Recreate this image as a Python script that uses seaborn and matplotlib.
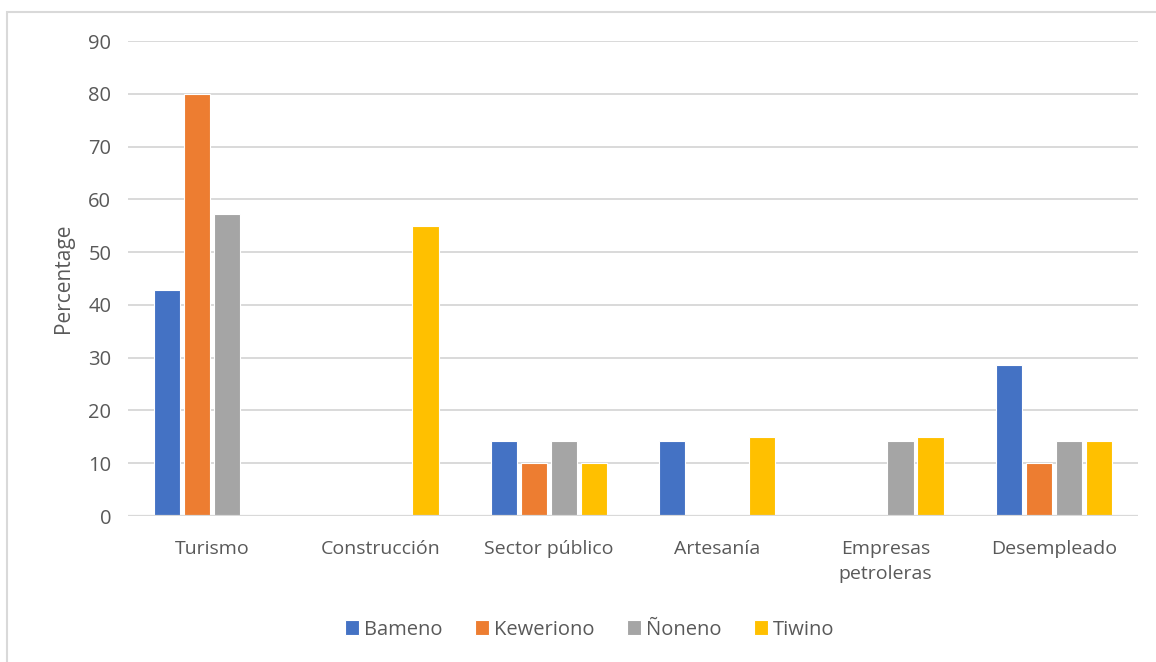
import matplotlib
matplotlib.use("Agg")
import matplotlib.pyplot as plt
from matplotlib.patches import Rectangle
import seaborn as sns
import pandas as pd

categories = ["Turismo", "Construcción", "Sector público", "Artesanía",
              "Empresas\npetroleras", "Desempleado"]
communities = ["Bameno", "Keweriono", "Ñoneno", "Tiwino"]
bameno = [42.86, 0, 14.29, 14.29, 0, 28.57]
keweriono = [80, 0, 10, 0, 0, 10]
noneno = [57.14, 0, 14.29, 0, 14.29, 14.29]
tiwino = [0, 55, 10, 15, 15, 14.29]
y_ticks = [0, 10, 20, 30, 40, 50, 60, 70, 80, 90]

colors = ["#4472C4", "#ED7D31", "#A5A5A5", "#FFC000"]
text_color = "#595959"
grid_color = "#D9D9D9"

series = [bameno, keweriono, noneno, tiwino]
rows = []
for name, vals in zip(communities, series):
    for cat, v in zip(categories, vals):
        rows.append({"Category": cat, "Community": name, "Percentage": v})
df = pd.DataFrame(rows)

sns.set_theme(style="white")
plt.rcParams["font.family"] = ["Open Sans", "DejaVu Sans"]

fig = plt.figure(figsize=(11.56, 6.62), dpi=100)
ax = fig.add_axes([0.1107, 0.2205, 0.8737, 0.7175])

sns.barplot(data=df, x="Category", y="Percentage", hue="Community",
            order=categories, hue_order=communities, palette=colors,
            saturation=1, width=0.713, gap=0.12, edgecolor="white",
            linewidth=0.8, ax=ax, zorder=2)

ax.set_ylim(0, 90)
ax.set_yticks(y_ticks)
ax.set_xlim(-0.5, len(categories) - 0.5)
for y in y_ticks[1:]:
    ax.axhline(y, color=grid_color, lw=1.4, zorder=1)
ax.axhline(0, color=grid_color, lw=1.6, zorder=3)

for s in ax.spines.values():
    s.set_visible(False)
ax.tick_params(axis="both", length=0, colors=text_color)
ax.tick_params(axis="x", pad=17, labelsize=14)
ax.tick_params(axis="y", pad=12, labelsize=14.5)
for lbl in ax.get_xticklabels():
    lbl.set_linespacing(1.55)
ax.set_xlabel("")
ax.set_ylabel("Percentage", color=text_color, fontsize=15, labelpad=10)

handles, labels = ax.get_legend_handles_labels()
if ax.legend_:
    ax.legend_.remove()
fig.legend(handles, labels, loc="center", bbox_to_anchor=(0.51, 0.049),
           ncol=4, frameon=False, fontsize=14.5, handlelength=0.7,
           handleheight=0.7, handletextpad=0.25, columnspacing=1.6,
           labelcolor=text_color)

# light frame around the chart area
fig.patches.append(Rectangle((7 / 1156, -0.05), 1.2, 1 - 12 / 662 + 0.05,
                             transform=fig.transFigure, fill=False,
                             edgecolor="#D9D9D9", lw=1.5, zorder=0))

fig.savefig("out.png", dpi=100, facecolor="white")
